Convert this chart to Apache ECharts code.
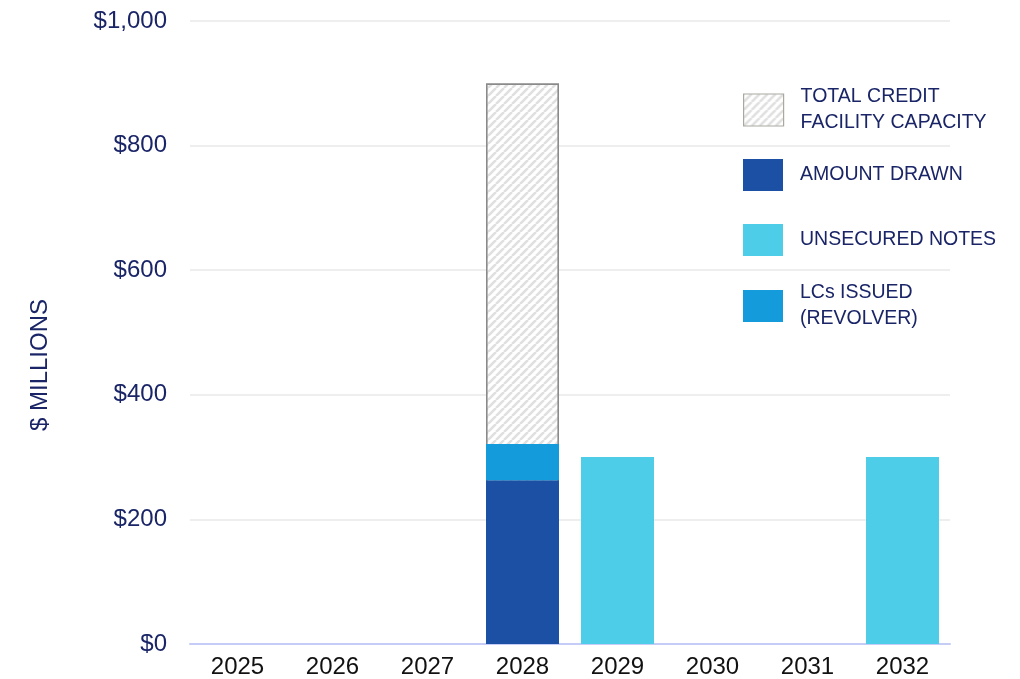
<!DOCTYPE html>
<html>
<head>
<meta charset="utf-8">
<script src="https://cdn.jsdelivr.net/npm/echarts@6/dist/echarts.min.js"></script>
<style>
  html, body { margin: 0; padding: 0; background: #ffffff; }
  #chart { width: 1020px; height: 679px; }
</style>
</head>
<body>
<div id="chart"></div>
<script>
// Debt maturity profile, $ millions
const years = ['2025', '2026', '2027', '2028', '2029', '2030', '2031', '2032'];
const creditFacilityCapacity = [null, null, null, 900, null, null, null, null];
const amountDrawn = [null, null, null, 263, null, null, null, null];
const lcsIssued = [null, null, null, 58, null, null, null, null];
const unsecuredNotes = [null, null, null, null, 300, null, null, 300];
const yTicks = [0, 200, 400, 600, 800, 1000];

const SERIES_CAPACITY = 'TOTAL CREDIT\nFACILITY CAPACITY';
const SERIES_DRAWN = 'AMOUNT DRAWN';
const SERIES_NOTES = 'UNSECURED NOTES';
const SERIES_LCS = 'LCs ISSUED\n(REVOLVER)';

const navy = '#1a2567';
const font = 'Liberation Sans, Arial, sans-serif';

// Diagonal hatch fill for the credit facility capacity bar
function hatchPattern() {
  const size = 8;
  const c = document.createElement('canvas');
  c.width = size; c.height = size;
  const ctx = c.getContext('2d');
  ctx.fillStyle = '#ffffff';
  ctx.fillRect(0, 0, size, size);
  ctx.strokeStyle = '#e0e0e0';
  ctx.lineWidth = 2.6;
  ctx.beginPath();
  for (let k = -1; k <= 1; k++) {
    ctx.moveTo(k * size, size);
    ctx.lineTo(k * size + size, 0);
  }
  ctx.stroke();
  return c;
}

// One legend block per entry so every swatch sits on the same 65px rhythm
function legendEntry(name, top, extraItemStyle) {
  return {
    orient: 'vertical',
    left: 743,
    top: top,
    padding: 0,
    itemWidth: 40,
    itemHeight: 32,
    icon: 'rect',
    selectedMode: false,
    textStyle: {
      color: navy,
      fontFamily: font,
      fontSize: 19.5,
      lineHeight: 26,
      padding: [8, 0, 0, 12]
    },
    data: [extraItemStyle ? { name: name, itemStyle: extraItemStyle } : name]
  };
}

const chart = echarts.init(document.getElementById('chart'));
chart.setOption({
  animation: false,
  backgroundColor: '#ffffff',
  grid: { left: 190, right: 70, top: 21, bottom: 35, containLabel: false },
  legend: [
    legendEntry(SERIES_CAPACITY, 80, { borderColor: '#a8a8a0', borderWidth: 1.2 }),
    legendEntry(SERIES_DRAWN, 158),
    legendEntry(SERIES_NOTES, 223),
    legendEntry(SERIES_LCS, 276)
  ],
  graphic: [
    {
      type: 'text',
      x: 40,
      y: 365,
      rotation: Math.PI / 2,
      style: {
        text: '$ MILLIONS',
        fill: navy,
        font: '24px ' + font,
        textAlign: 'center',
        textVerticalAlign: 'middle'
      }
    }
  ],
  xAxis: {
    type: 'category',
    data: years,
    axisLine: { show: true, lineStyle: { color: '#c5cdf6', width: 2 } },
    axisTick: { show: false },
    axisLabel: {
      color: '#111111',
      fontFamily: font,
      fontSize: 24,
      margin: 11
    }
  },
  yAxis: {
    type: 'value',
    min: yTicks[0],
    max: yTicks[yTicks.length - 1],
    interval: yTicks[1] - yTicks[0],
    axisLine: { show: false },
    axisTick: { show: false },
    splitLine: { lineStyle: { color: '#e8e8e8', width: 1.5 } },
    axisLabel: {
      color: navy,
      fontFamily: font,
      fontSize: 24,
      margin: 23,
      formatter: v => '$' + v.toLocaleString('en-US')
    }
  },
  series: [
    {
      name: SERIES_CAPACITY,
      type: 'bar',
      data: creditFacilityCapacity,
      barWidth: 73,
      barGap: '-100%',
      z: 1,
      itemStyle: {
        color: { image: hatchPattern(), repeat: 'repeat' },
        borderColor: '#8a8a8a',
        borderWidth: 1.6
      }
    },
    {
      name: SERIES_DRAWN,
      type: 'bar',
      stack: 'debt',
      data: amountDrawn,
      barWidth: 73,
      z: 3,
      itemStyle: { color: '#1b50a4' }
    },
    {
      name: SERIES_LCS,
      type: 'bar',
      stack: 'debt',
      data: lcsIssued,
      barWidth: 73,
      z: 3,
      itemStyle: { color: '#149bdc' }
    },
    {
      name: SERIES_NOTES,
      type: 'bar',
      stack: 'debt',
      data: unsecuredNotes,
      barWidth: 73,
      z: 3,
      itemStyle: { color: '#4ecde9' }
    }
  ]
});
</script>
</body>
</html>
